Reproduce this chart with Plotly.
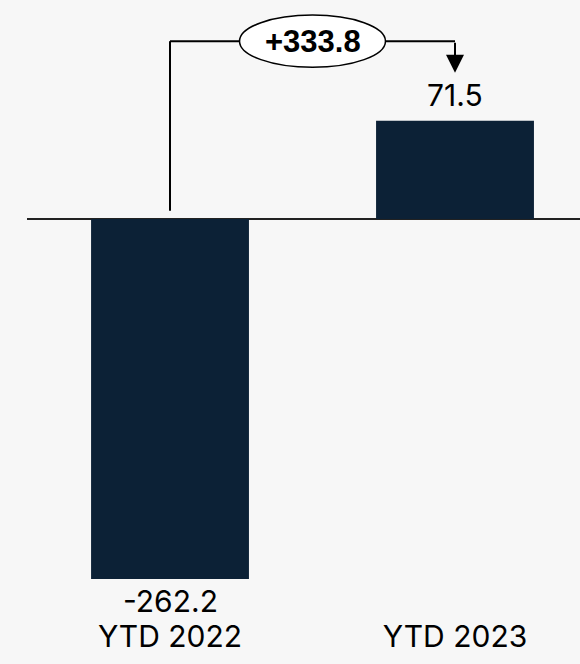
import plotly.graph_objects as go

categories = ["YTD 2022", "YTD 2023"]
values = [-262.2, 71.5]
value_labels = ["-262.2", "71.5"]
delta_label = "+333.8"

BG = "#f7f7f7"
BAR = "#0c2136"
LABEL_FONT = "Inter"

# connector geometry (data units relative to values)
level = max(values) + 58.0
start = 6.0
tip = values[1] + 35.0

fig = go.Figure()
fig.add_trace(go.Bar(x=[0, 1], y=values, width=0.554, marker=dict(color=BAR, line=dict(width=0)),
                     hoverinfo="skip"))

# connector lines
fig.add_shape(type="line", x0=0, x1=0, y0=start, y1=level, xref="x", yref="y",
              line=dict(color="black", width=2))
fig.add_shape(type="line", x0=0, x1=1, y0=level, y1=level, xref="x", yref="y",
              line=dict(color="black", width=2))
# bubble
fig.add_shape(type="circle", x0=0.244, x1=0.756, y0=level - 19.0, y1=level + 19.0,
              xref="x", yref="y", fillcolor="white", line=dict(color="black", width=1.5))
fig.add_annotation(x=0.5, y=level, xref="x", yref="y", text="<b>" + delta_label + "</b>",
                   showarrow=False,
                   font=dict(family="Liberation Sans, Arial", size=31, color="black"))
# arrow
fig.add_annotation(x=1, y=tip, ax=1, ay=level, xref="x", yref="y", axref="x", ayref="y",
                   text="", showarrow=True, arrowhead=2, arrowsize=1.8, arrowwidth=2,
                   arrowcolor="black")

# value labels
for i, (v, t) in enumerate(zip(values, value_labels)):
    fig.add_annotation(x=i, y=v, xref="x", yref="y", text=t, showarrow=False,
                       yanchor="bottom" if v >= 0 else "top", yshift=6 if v >= 0 else -2,
                       font=dict(family=LABEL_FONT, size=30, color="black"))

fig.update_layout(
    width=580, height=664, margin=dict(l=27, r=0, t=0, b=50),
    paper_bgcolor=BG, plot_bgcolor=BG, showlegend=False,
    xaxis=dict(range=[-0.5018, 1.4386], tickmode="array", tickvals=[0, 1], ticktext=categories,
               showgrid=False, zeroline=False, showline=False, ticks="",
               ticklabelstandoff=2,
               tickfont=dict(family=LABEL_FONT, size=30, color="black"), fixedrange=True),
    yaxis=dict(range=[-287.7, 159.5], showgrid=False, showticklabels=False, zeroline=True,
               zerolinecolor="#222222", zerolinewidth=2, fixedrange=True),
)

fig.write_html("out.html")
